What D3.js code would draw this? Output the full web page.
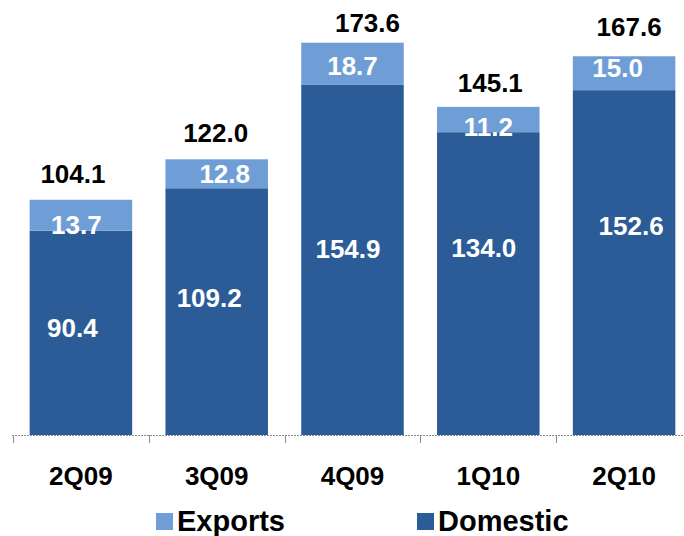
<!DOCTYPE html>
<html>
<head>
<meta charset="utf-8">
<script src="https://cdn.jsdelivr.net/npm/d3@7"></script>
<style>
  html, body { margin: 0; padding: 0; background: #fff; }
  svg { display: block; font-family: "Liberation Sans", Arial, Helvetica, sans-serif; font-weight: bold; }
</style>
</head>
<body>
<svg id="chart" width="684" height="536"></svg>
<script>
// Quarterly volumes, split into domestic and export sales
const quarters = ["2Q09", "3Q09", "4Q09", "1Q10", "2Q10"];
const domestic = [90.4, 109.2, 154.9, 134.0, 152.6];
const exportsVol = [13.7, 12.8, 18.7, 11.2, 15.0];
const totals = [104.1, 122.0, 173.6, 145.1, 167.6];
const seriesNames = ["Domestic", "Exports"];

// Hand placement of the value labels (pixel nudges from their default spots)
const domesticNudge = [[-8.5, -5.5], [-7.5, -13.5], [-4.5, -11.5], [-4.5, -36], [7, -37]];
const exportsNudge = [[-4.5, 9], [8, 0], [0, 2], [0, 7], [-6.5, -6]];
const totalNudge = [[-8, -1], [-1, -1], [15, 5], [2, 1], [5, -4]];

const colors = { Domestic: "#2B5C97", Exports: "#6F9ED6" };

const svg = d3.select("#chart");
const baseY = 435;

const rows = quarters.map((q, i) => ({ quarter: q, Domestic: domestic[i], Exports: exportsVol[i] }));
const stacked = d3.stack().keys(seriesNames)(rows);

const x = d3.scaleBand()
  .domain(quarters)
  .range([12, 693])
  .paddingInner(0.245)
  .paddingOuter(0.13);

const y = d3.scaleLinear()
  .domain([0, 192.5])
  .range([baseY, 0]);

// Stacked bars
svg.append("g").selectAll("g")
  .data(stacked)
  .join("g")
  .attr("fill", d => colors[d.key])
  .selectAll("rect")
  .data(d => d)
  .join("rect")
  .attr("x", d => x(d.data.quarter))
  .attr("width", x.bandwidth())
  .attr("y", d => y(d[1]))
  .attr("height", d => y(d[0]) - y(d[1]));

// Category axis: dotted base line with ticks at band boundaries
const axis = svg.append("g");
axis.append("line")
  .attr("x1", x.range()[0]).attr("x2", x.range()[1])
  .attr("y1", baseY + 0.5).attr("y2", baseY + 0.5)
  .attr("stroke", "#8a8a8a").attr("stroke-width", 1)
  .attr("stroke-dasharray", "2,1");
const bounds = quarters.map(q => x(q) - x.step() * x.paddingInner() / 2);
axis.selectAll("line.tick")
  .data(bounds)
  .join("line")
  .attr("class", "tick")
  .attr("x1", d => Math.round(d) + 0.5).attr("x2", d => Math.round(d) + 0.5)
  .attr("y1", baseY).attr("y2", baseY + 8)
  .attr("stroke", "#8a8a8a").attr("stroke-width", 1);

axis.selectAll("text")
  .data(quarters)
  .join("text")
  .attr("x", d => x(d) + x.bandwidth() / 2)
  .attr("y", 485)
  .attr("text-anchor", "middle")
  .attr("font-size", 26)
  .attr("fill", "#000")
  .text(d => d);

// Value labels inside the segments
const fs = 26;
const capHalf = fs * 0.358;
const segLabels = [];
stacked.forEach(s => {
  const nudge = s.key === "Domestic" ? domesticNudge : exportsNudge;
  s.forEach((d, i) => segLabels.push({ d, i, nudge: nudge[i], value: d.data[s.key] }));
});
svg.append("g").selectAll("text")
  .data(segLabels)
  .join("text")
  .attr("x", e => x(e.d.data.quarter) + x.bandwidth() / 2 + e.nudge[0])
  .attr("y", e => (y(e.d[0]) + y(e.d[1])) / 2 + capHalf + e.nudge[1])
  .attr("text-anchor", "middle")
  .attr("font-size", fs)
  .attr("fill", "#fff")
  .text(e => e.value.toFixed(1));

// Totals above the bars
const topLayer = stacked[stacked.length - 1];
svg.append("g").selectAll("text")
  .data(totals)
  .join("text")
  .attr("x", (t, i) => x(quarters[i]) + x.bandwidth() / 2 + totalNudge[i][0])
  .attr("y", (t, i) => y(topLayer[i][1]) - 16 + totalNudge[i][1])
  .attr("text-anchor", "middle")
  .attr("font-size", fs)
  .attr("fill", "#000")
  .text(t => t.toFixed(1));

// Legend
const legendItems = [
  { name: "Exports", x: 156 },
  { name: "Domestic", x: 417 }
];
const legend = svg.append("g").selectAll("g")
  .data(legendItems)
  .join("g")
  .attr("transform", d => `translate(${d.x},513)`);
legend.append("rect")
  .attr("width", 17).attr("height", 17)
  .attr("fill", d => colors[d.name]);
legend.append("text")
  .attr("x", 21).attr("y", 18)
  .attr("font-size", 29)
  .attr("fill", "#000")
  .text(d => d.name);
</script>
</body>
</html>
